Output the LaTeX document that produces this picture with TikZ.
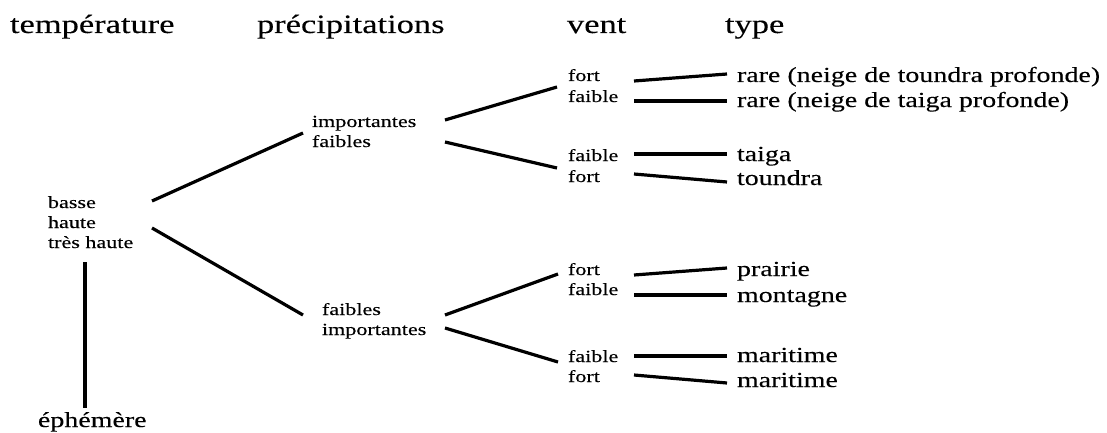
\documentclass[tikz,border=0pt]{standalone}
\usepackage{fontspec}
\setmainfont{Liberation Serif}[FakeStretch=1.3,FakeBold=0.15]
\begin{document}
\begin{tikzpicture}[x=1pt,y=-1pt,
  lbl/.style={anchor=base west,inner sep=0pt,outer sep=0pt},
  head/.style={lbl,font=\fontsize{26.5}{30}\selectfont},
  small/.style={lbl,font=\fontsize{17}{20}\selectfont},
  kind/.style={lbl,font=\fontsize{21.5}{25}\selectfont},
  link/.style={line width=3.2pt,black}]
\useasboundingbox (0,0) rectangle (1107,433);
% headings
\node[head] (h1) at (10,33) {température};
\node[head] (h2) at (257,33) {précipitations};
\node[head] (h3) at (567,33) {vent};
\node[head] (h4) at (725,33) {type};
% temperature
\node[small] (t1) at (48,208) {basse};
\node[small] (t2) at (48,228) {haute};
\node[small] (t3) at (48,248) {très haute};
\node[kind] (eph) at (38,427) {éphémère};
% precipitations
\node[small] (p1) at (312,127) {importantes};
\node[small] (p2) at (312,147) {faibles};
\node[small] (p3) at (322,315) {faibles};
\node[small] (p4) at (322,335) {importantes};
% vent
\node[small] (v1) at (568,81) {fort};
\node[small] (v2) at (568,102) {faible};
\node[small] (v3) at (568,161) {faible};
\node[small] (v4) at (568,182) {fort};
\node[small] (v5) at (568,275) {fort};
\node[small] (v6) at (568,295) {faible};
\node[small] (v7) at (568,362) {faible};
\node[small] (v8) at (568,382) {fort};
% type
\node[kind] (y1) at (737,82) {rare (neige de toundra profonde)};
\node[kind] (y2) at (737,107) {rare (neige de taiga profonde)};
\node[kind] (y3) at (737,161) {taiga};
\node[kind] (y4) at (737,185) {toundra};
\node[kind] (y5) at (737,276) {prairie};
\node[kind] (y6) at (737,302) {montagne};
\node[kind] (y7) at (737,362) {maritime};
\node[kind] (y8) at (737,387) {maritime};
% connectors
\draw[link] ([shift={(104,-7)}]t1.base west) -- ([shift={(-9,6)}]p1.base west);
\draw[link] ([shift={(104,0)}]t2.base west) -- ([shift={(-19,0)}]p3.base west);
\draw[link] ([shift={(37,14)}]t3.base west) -- ([shift={(47,-19)}]eph.base west);
\draw[link] ([shift={(133,-7)}]p1.base west) -- ([shift={(-11,6)}]v1.base west);
\draw[link] ([shift={(133,-5)}]p2.base west) -- ([shift={(-11,7)}]v3.base west);
\draw[link] ([shift={(123,0)}]p3.base west) -- ([shift={(-10,-1)}]v5.base west);
\draw[link] ([shift={(123,-7)}]p4.base west) -- ([shift={(-10,0)}]v7.base west);
\draw[link] ([shift={(66,0)}]v1.base west) -- ([shift={(-10,-8)}]y1.base west);
\draw[link] ([shift={(66,-1)}]v2.base west) -- ([shift={(-10,-6)}]y2.base west);
\draw[link] ([shift={(66,-7)}]v3.base west) -- ([shift={(-10,-7)}]y3.base west);
\draw[link] ([shift={(66,-8)}]v4.base west) -- ([shift={(-10,-3)}]y4.base west);
\draw[link] ([shift={(66,0)}]v5.base west) -- ([shift={(-10,-8)}]y5.base west);
\draw[link] ([shift={(66,0)}]v6.base west) -- ([shift={(-10,-7)}]y6.base west);
\draw[link] ([shift={(66,-6)}]v7.base west) -- ([shift={(-10,-6)}]y7.base west);
\draw[link] ([shift={(66,-7)}]v8.base west) -- ([shift={(-10,-4)}]y8.base west);
\end{tikzpicture}
\end{document}
